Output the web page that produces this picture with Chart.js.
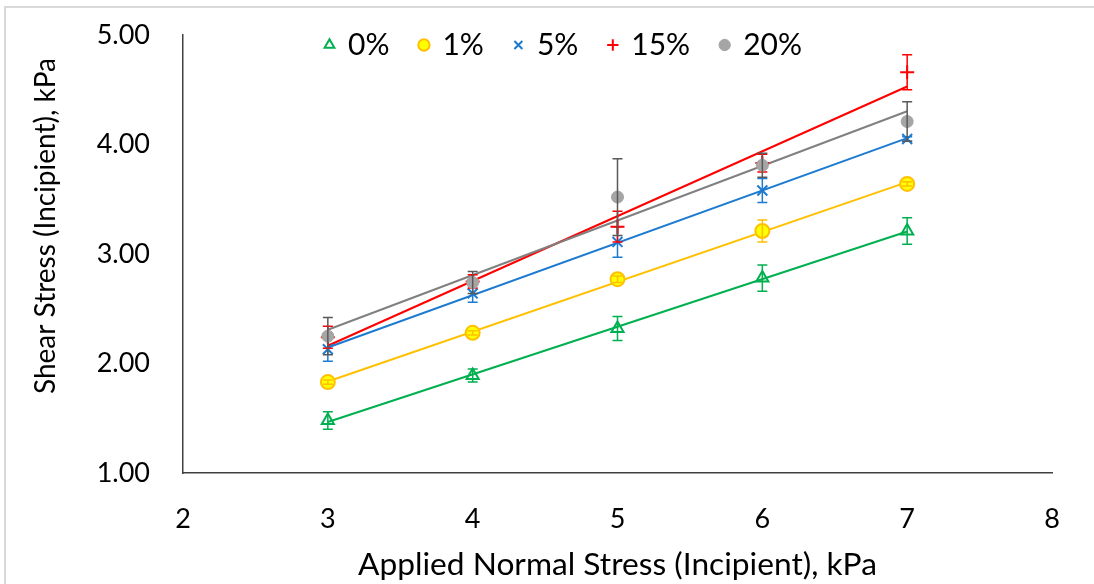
<!DOCTYPE html>
<html>
<head>
<meta charset="utf-8">
<script src="https://cdn.jsdelivr.net/npm/chart.js@4"></script>
<style>
  html, body { margin: 0; padding: 0; background: #fff; }
  #wrap { width: 1094px; height: 584px; position: relative; }
</style>
</head>
<body>
<div id="wrap"><canvas id="c"></canvas></div>
<script>
// Applied normal stress levels (kPa)
const normalStress = [3, 4, 5, 6, 7];

// Incipient shear stress (kPa) for each additive percentage, with error bar half-widths
const seriesNames = ['0%', '1%', '5%', '15%', '20%'];
const shear0  = [1.48, 1.89, 2.32, 2.78, 3.21];
const err0    = [0.08, 0.06, 0.11, 0.12, 0.12];
const shear1  = [1.83, 2.28, 2.77, 3.21, 3.64];
const err1    = [0.02, 0.02, 0.03, 0.10, 0.02];
const shear5  = [2.13, 2.64, 3.11, 3.58, 4.05];
const err5    = [0.11, 0.08, 0.14, 0.11, 0.02];
const shear15 = [2.24, 2.75, 3.25, 3.83, 4.66];
const err15   = [0.10, 0.06, 0.14, 0.08, 0.16];
const shear20 = [2.25, 2.74, 3.52, 3.81, 4.21];
const err20   = [0.17, 0.10, 0.35, 0.11, 0.18];

const xTicks = [2, 3, 4, 5, 6, 7, 8];
const yTicks = [1, 2, 3, 4, 5];

const FONT = 'Lato';

// Least-squares linear trend through a series, evaluated at the first and last x
function trend(xs, ys) {
  const n = xs.length;
  const mx = xs.reduce((a, b) => a + b, 0) / n;
  const my = ys.reduce((a, b) => a + b, 0) / n;
  let sxy = 0, sxx = 0;
  for (let i = 0; i < n; i++) { sxy += (xs[i] - mx) * (ys[i] - my); sxx += (xs[i] - mx) ** 2; }
  const b = sxy / sxx, a = my - b * mx;
  const x0 = xs[0], x1 = xs[n - 1];
  return [{ x: x0, y: a + b * x0 }, { x: x1, y: a + b * x1 }];
}

const pts = ys => normalStress.map((x, i) => ({ x, y: ys[i] }));

const styles = [
  { name: seriesNames[0], ys: shear0,  err: err0,  line: '#00B050', errColor: '#00B050', pointStyle: 'triangle', bg: 'rgba(255,255,255,0)', border: '#00B050', radius: 7, bw: 2 },
  { name: seriesNames[1], ys: shear1,  err: err1,  line: '#FFC000', errColor: '#FFC000', pointStyle: 'circle',   bg: '#FFFF00', border: '#FFC000', radius: 7, bw: 2 },
  { name: seriesNames[2], ys: shear5,  err: err5,  line: '#1C7BD0', errColor: '#1C7BD0', pointStyle: 'crossRot', bg: '#1C7BD0', border: '#1C7BD0', radius: 7, bw: 2 },
  { name: seriesNames[3], ys: shear15, err: err15, line: '#FF0000', errColor: '#FF0000', pointStyle: 'cross',    bg: '#FF0000', border: '#FF0000', radius: 7, bw: 2 },
  { name: seriesNames[4], ys: shear20, err: err20, line: '#808080', errColor: '#595959', pointStyle: 'circle',   bg: '#A5A5A5', border: '#A5A5A5', radius: 6, bw: 1 }
];

// Later series are stacked on top of earlier ones; trend lines sit underneath the markers
const datasets = [];
styles.forEach((s, i) => {
  datasets.push({
    label: s.name,
    data: pts(s.ys),
    errors: s.err,
    errColor: s.errColor,
    showLine: false,
    pointStyle: s.pointStyle,
    pointRadius: s.radius,
    pointHoverRadius: s.radius,
    backgroundColor: s.bg,
    borderColor: s.border,
    pointBorderWidth: s.bw,
    order: styles.length - 1 - i
  });
});
styles.forEach((s, i) => {
  datasets.push({
    label: s.name + ' trend',
    data: trend(normalStress, s.ys),
    showLine: true,
    borderColor: s.line,
    borderWidth: 2,
    pointRadius: 0,
    pointHoverRadius: 0,
    order: 20 - i
  });
});

// Vertical error bars with caps, drawn right after their own series
const errorBars = {
  id: 'errorBars',
  afterDatasetDraw(chart, args) {
    const ds = chart.data.datasets[args.index];
    if (!ds.errors) return;
    const { ctx, scales: { x, y } } = chart;
    ctx.save();
    ctx.strokeStyle = ds.errColor;
    ctx.lineWidth = 1.5;
    ds.data.forEach((p, i) => {
      const e = ds.errors[i];
      const px = x.getPixelForValue(p.x);
      const top = y.getPixelForValue(p.y + e);
      const bot = y.getPixelForValue(p.y - e);
      ctx.beginPath();
      ctx.moveTo(px, top); ctx.lineTo(px, bot);
      ctx.moveTo(px - 5, top); ctx.lineTo(px + 5, top);
      ctx.moveTo(px - 5, bot); ctx.lineTo(px + 5, bot);
      ctx.stroke();
    });
    ctx.restore();
  }
};

// Chart frame and the vertical axis title
const frame = {
  id: 'frame',
  beforeDraw(chart) {
    const ctx = chart.ctx;
    ctx.save();
    ctx.fillStyle = '#fff';
    ctx.fillRect(0, 0, chart.width, chart.height);
    ctx.strokeStyle = '#D9D9D9';
    ctx.lineWidth = 2;
    ctx.strokeRect(5, 7, chart.width + 10, chart.height + 10);
    ctx.restore();
  },
  afterDraw(chart) {
    const ctx = chart.ctx;
    ctx.save();
    ctx.translate(46, 226);
    ctx.rotate(-Math.PI / 2);
    ctx.font = '28px ' + FONT;
    ctx.fillStyle = '#000';
    ctx.textAlign = 'center';
    ctx.textBaseline = 'middle';
    ctx.fillText('Shear Stress (Incipient), kPa', 0, 0);
    ctx.restore();
  }
};

// Legend is drawn over the top of the plot area, centred on x = 564
const legendPlace = {
  id: 'legendPlace',
  afterLayout(chart) {
    const lg = chart.legend;
    if (!lg) return;
    const dx = 564 - (lg.left + lg.right) / 2;
    lg.left += dx; lg.right += dx;
    lg.top = -1; lg.bottom = 90;
  }
};

new Chart(document.getElementById('c'), {
  type: 'scatter',
  data: { datasets },
  plugins: [errorBars, frame, legendPlace],
  options: {
    responsive: true,
    maintainAspectRatio: false,
    animation: false,
    layout: { padding: { left: 0, right: 42, top: 0, bottom: 0 } },
    plugins: {
      tooltip: { enabled: false },
      legend: {
        position: 'top',
        align: 'center',
        maxHeight: 35,
        labels: {
          filter: item => !item.text.endsWith('trend'),
          sort: (a, b) => a.datasetIndex - b.datasetIndex,
          usePointStyle: true,
          boxWidth: 7,
          boxHeight: 8,
          padding: 31,
          color: '#000',
          font: { family: FONT, size: 30 }
        }
      }
    },
    scales: {
      x: {
        type: 'linear',
        min: 2, max: 8,
        afterBuildTicks: s => { s.ticks = xTicks.map(v => ({ value: v })); },
        afterFit: s => { s.height = 111; },
        grid: { display: true, drawOnChartArea: false, drawTicks: false },
        border: { display: true, color: '#404040', width: 1.5 },
        ticks: { color: '#000', font: { family: FONT, size: 27 }, padding: 30 },
        title: {
          display: true,
          text: 'Applied Normal Stress (Incipient), kPa',
          color: '#000',
          font: { family: FONT, size: 31.7 },
          padding: { top: 0, bottom: 0 }
        }
      },
      y: {
        type: 'linear',
        min: 1, max: 5,
        afterBuildTicks: s => { s.ticks = yTicks.map(v => ({ value: v })); },
        afterFit: s => { s.width = 183; s.paddingTop = 0; s.paddingBottom = 0; },
        grid: { display: true, drawOnChartArea: false, drawTicks: false },
        border: { display: true, color: '#404040', width: 1.5 },
        ticks: { color: '#000', font: { family: FONT, size: 27 }, padding: 33, callback: v => v.toFixed(2) }
      }
    }
  }
});
</script>
</body>
</html>
